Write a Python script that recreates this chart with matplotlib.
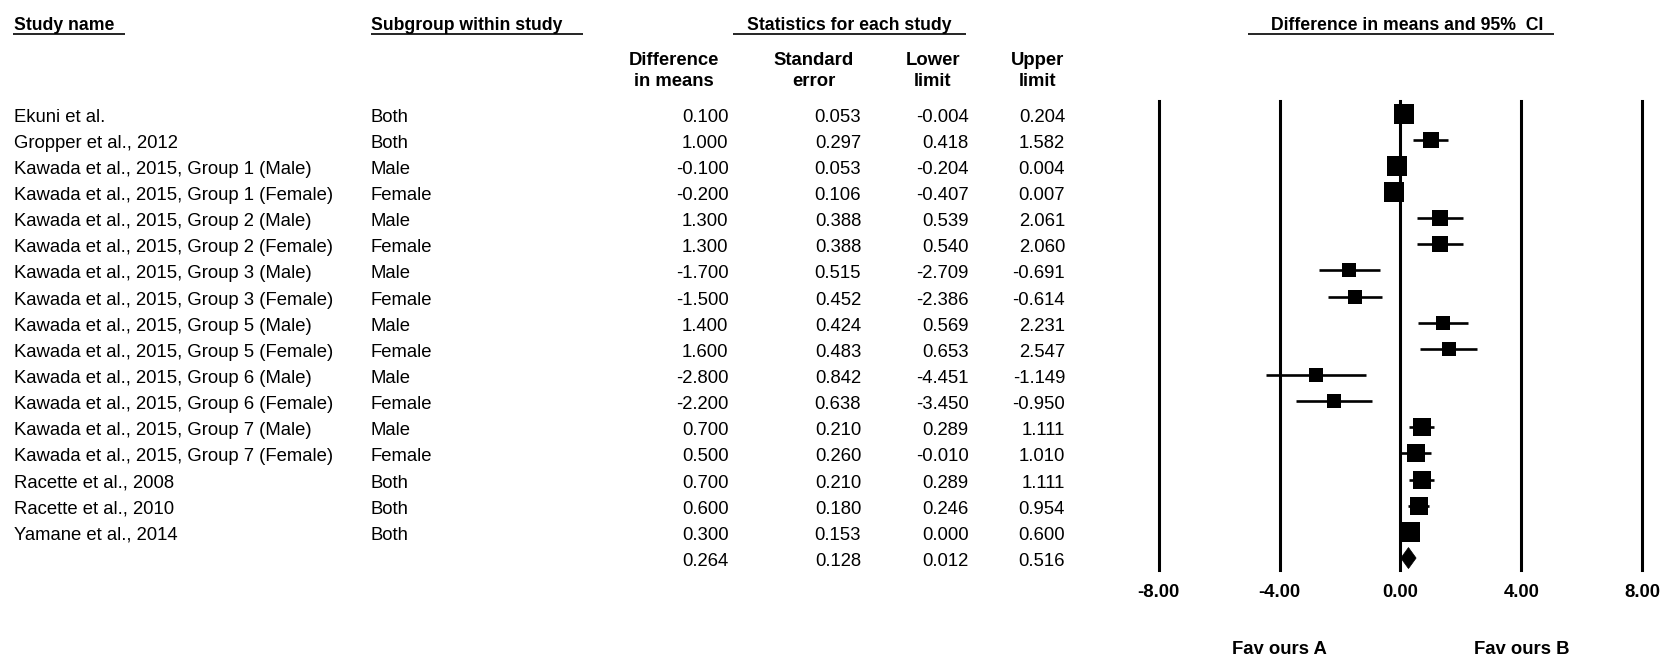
import numpy as np
import matplotlib
matplotlib.use("Agg")
import matplotlib.pyplot as plt
from matplotlib.patches import Polygon
from matplotlib.transforms import blended_transform_factory

plt.rcParams['font.family'] = ['Liberation Sans', 'DejaVu Sans']

# ---- data ----
study_names = [
    "Ekuni et al.",
    "Gropper et al., 2012",
    "Kawada et al., 2015, Group 1 (Male)",
    "Kawada et al., 2015, Group 1 (Female)",
    "Kawada et al., 2015, Group 2 (Male)",
    "Kawada et al., 2015, Group 2 (Female)",
    "Kawada et al., 2015, Group 3 (Male)",
    "Kawada et al., 2015, Group 3 (Female)",
    "Kawada et al., 2015, Group 5 (Male)",
    "Kawada et al., 2015, Group 5 (Female)",
    "Kawada et al., 2015, Group 6 (Male)",
    "Kawada et al., 2015, Group 6 (Female)",
    "Kawada et al., 2015, Group 7 (Male)",
    "Kawada et al., 2015, Group 7 (Female)",
    "Racette et al., 2008",
    "Racette et al., 2010",
    "Yamane et al., 2014",
]
subgroups = ["Both", "Both", "Male", "Female", "Male", "Female", "Male", "Female",
             "Male", "Female", "Male", "Female", "Male", "Female", "Both", "Both", "Both"]
diff_means = [0.100, 1.000, -0.100, -0.200, 1.300, 1.300, -1.700, -1.500,
              1.400, 1.600, -2.800, -2.200, 0.700, 0.500, 0.700, 0.600, 0.300]
std_errors = [0.053, 0.297, 0.053, 0.106, 0.388, 0.388, 0.515, 0.452,
              0.424, 0.483, 0.842, 0.638, 0.210, 0.260, 0.210, 0.180, 0.153]
lower_limits = [-0.004, 0.418, -0.204, -0.407, 0.539, 0.540, -2.709, -2.386,
                0.569, 0.653, -4.451, -3.450, 0.289, -0.010, 0.289, 0.246, 0.000]
upper_limits = [0.204, 1.582, 0.004, 0.007, 2.061, 2.060, -0.691, -0.614,
                2.231, 2.547, -1.149, -0.950, 1.111, 1.010, 1.111, 0.954, 0.600]
summary_stats = [0.264, 0.128, 0.012, 0.516]   # diff, SE, lower, upper
axis_ticks = [-8.0, -4.0, 0.0, 4.0, 8.0]
favours_labels = ["Fav ours A", "Fav ours B"]

# ---- random-effects (DerSimonian-Laird) weights for square sizes ----
y = np.array(diff_means)
se = np.array(std_errors)
w_fixed = 1.0 / se**2
y_fixed = np.sum(w_fixed * y) / np.sum(w_fixed)
Q = np.sum(w_fixed * (y - y_fixed) ** 2)
C = np.sum(w_fixed) - np.sum(w_fixed**2) / np.sum(w_fixed)
tau2 = max(0.0, (Q - (len(y) - 1)) / C)
w_random = 1.0 / (se**2 + tau2)

# ---- layout (pixels) ----
W, H = 1665, 658
DPI = 100
ROW0, ROWSTEP = 113.5, 26.15
FS = 13.3          # body text
FS_HEAD = 12.7     # top header row
BASE_OFF = 8.0     # baseline offset below a row's centre

fig = plt.figure(figsize=(W / DPI, H / DPI), dpi=DPI)
bg = fig.add_axes([0, 0, 1, 1])
bg.set_xlim(0, W)
bg.set_ylim(H, 0)
bg.axis('off')


def row_y(i):
    return ROW0 + ROWSTEP * i


# header row with underlines
hdr_base, ul_y = 30.0, 34.4
headers = [
    ("Study name", 13.8, 'left', (13.3, 125.0)),
    ("Subgroup within study", 370.6, 'left', (370.6, 583.0)),
    ("Statistics for each study", 849.5, 'center', (732.7, 966.3)),
    ("Difference in means and 95%  CI", 1407.0, 'center', (1247.8, 1553.6)),
]
for txt, x, ha, (u0, u1) in headers:
    bg.text(x, hdr_base, txt, ha=ha, va='baseline', fontsize=FS_HEAD, fontweight='bold')
    bg.plot([u0, u1], [ul_y, ul_y], color='black', lw=1.2, solid_capstyle='butt')

# column headers (two lines each)
col_heads = [(("Difference", "in means"), 674.0), (("Standard", "error"), 814.0),
             (("Lower", "limit"), 933.0), (("Upper", "limit"), 1038.0)]
for (l1, l2), x in col_heads:
    bg.text(x, 65.0, l1, ha='center', va='baseline', fontsize=FS, fontweight='bold')
    bg.text(x, 86.5, l2, ha='center', va='baseline', fontsize=FS, fontweight='bold')

col_right = [728.5, 861.2, 968.5, 1065.1]

for i in range(len(study_names)):
    yb = row_y(i) + BASE_OFF
    bg.text(13.8, yb, study_names[i], ha='left', va='baseline', fontsize=FS)
    bg.text(370.6, yb, subgroups[i], ha='left', va='baseline', fontsize=FS)
    vals = [diff_means[i], std_errors[i], lower_limits[i], upper_limits[i]]
    for v, xr in zip(vals, col_right):
        bg.text(xr, yb, f"{v:.3f}", ha='right', va='baseline', fontsize=FS)

n = len(study_names)
for v, xr in zip(summary_stats, col_right):
    bg.text(xr, row_y(n) + BASE_OFF, f"{v:.3f}", ha='right', va='baseline', fontsize=FS)

# ---- forest plot axes ----
px_m8, px_p8 = 1158.7, 1642.3
top_px, bot_px = 101.0, 570.0
ax = fig.add_axes([px_m8 / W, 1 - bot_px / H, (px_p8 - px_m8) / W, (bot_px - top_px) / H])
ax.set_xlim(-8, 8)
ax.set_ylim((bot_px - ROW0) / ROWSTEP, (top_px - ROW0) / ROWSTEP)
ax.axis('off')

for t in axis_ticks:
    ax.axvline(t, color='black', lw=2.2, clip_on=False, zorder=1)

rows = np.arange(n)
ax.hlines(rows, lower_limits, upper_limits, color='black', lw=1.9, zorder=2, clip_on=False)
side_px = np.maximum(8.75 * np.sqrt(w_random), 13.7)
for i in range(n):
    ax.plot(diff_means[i], rows[i], marker='s', color='black',
            markersize=side_px[i] * 72 / DPI, markeredgewidth=0, zorder=3, clip_on=False)

# summary diamond
est, _, lo, hi = summary_stats
half_h = 10.5 / ROWSTEP
diamond = Polygon([[lo, n], [est, n - half_h], [hi, n], [est, n + half_h]],
                  closed=True, facecolor='black', edgecolor='black', lw=0.5,
                  zorder=3, clip_on=False)
ax.add_patch(diamond)

# tick labels and favours labels
tr = blended_transform_factory(ax.transData, bg.transData)
for t in axis_ticks:
    bg.text(t, 597.0, f"{t:.2f}", transform=tr, ha='center', va='baseline',
            fontsize=FS, fontweight='bold')
for lab, xpos in zip(favours_labels, [axis_ticks[1], axis_ticks[3]]):
    bg.text(xpos, 654.0, lab, transform=tr, ha='center', va='baseline',
            fontsize=FS, fontweight='bold')

fig.savefig("out.png", dpi=DPI, facecolor='white')
